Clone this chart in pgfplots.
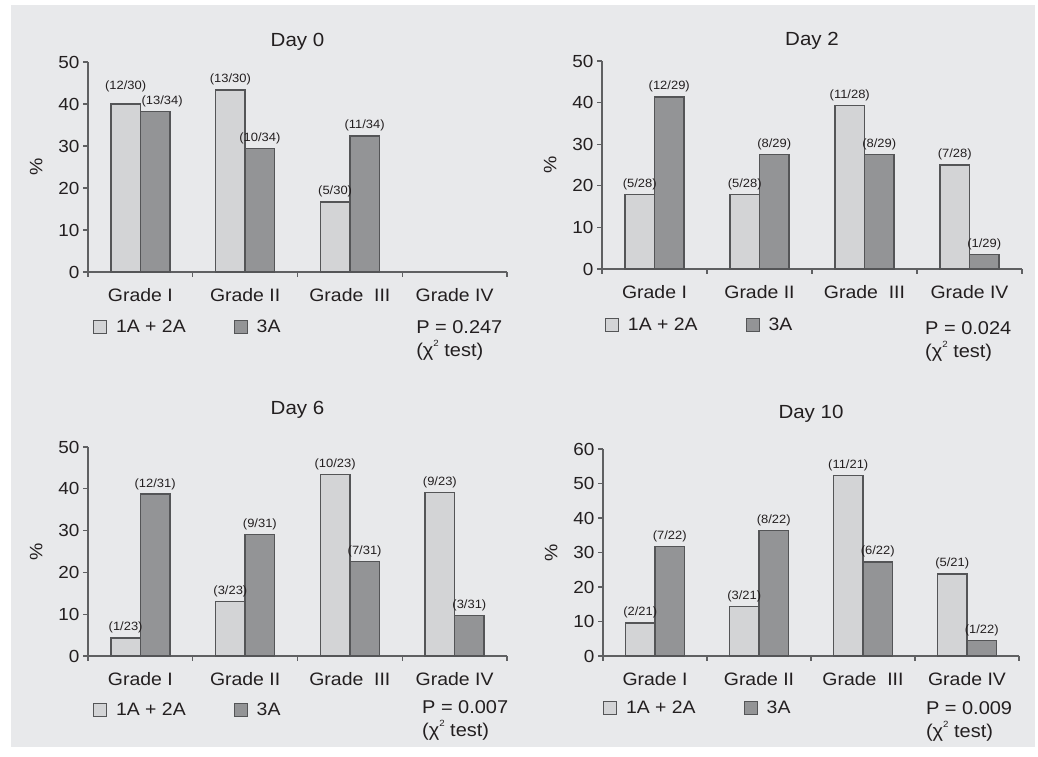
\documentclass[border=0pt]{standalone}
\usepackage{fontspec}
\setmainfont{Liberation Sans}[FakeStretch=1.08]
\usepackage{pgfplots}
\usepackage{pgfplotstable}
\pgfplotsset{compat=1.18}
\definecolor{bg}{HTML}{E8E9EB}
\definecolor{lightbar}{HTML}{D3D4D6}
\definecolor{darkbar}{HTML}{939496}
\definecolor{edge}{HTML}{545557}
\definecolor{axisc}{HTML}{5F6062}
\definecolor{txt}{HTML}{231F20}

% Day 0
\pgfplotstableread{
x y lab dx dy
0 40.00 (12/30) 0 10
1 43.33 (13/30) 0 3
2 16.67 (5/30) 0 3
}\dZa
\pgfplotstableread{
x y lab dx dy
0 38.24 (13/34) 7 3
1 29.41 (10/34) 0 3
2 32.35 (11/34) 0 3
}\dZb
% Day 2
\pgfplotstableread{
x y lab dx dy
0 17.86 (5/28) 0 3
1 17.86 (5/28) 0 3
2 39.29 (11/28) 0 3
3 25.00 (7/28) 0 3
}\dTa
\pgfplotstableread{
x y lab dx dy
0 41.38 (12/29) 0 3
1 27.59 (8/29) 0 3
2 27.59 (8/29) 0 3
3 3.45 (1/29) 0 3
}\dTb
% Day 6
\pgfplotstableread{
x y lab dx dy
0 4.35 (1/23) 0 3
1 13.04 (3/23) 0 3
2 43.48 (10/23) 0 3
3 39.13 (9/23) 0 3
}\dSa
\pgfplotstableread{
x y lab dx dy
0 38.71 (12/31) 0 3
1 29.03 (9/31) 0 3
2 22.58 (7/31) 0 3
3 9.68 (3/31) 0 3
}\dSb
% Day 10
\pgfplotstableread{
x y lab dx dy
0 9.52 (2/21) 0 3
1 14.29 (3/21) 0 3
2 52.38 (11/21) 0 3
3 23.81 (5/21) 0 3
}\dXa
\pgfplotstableread{
x y lab dx dy
0 31.82 (7/22) 0 3
1 36.36 (8/22) 0 3
2 27.27 (6/22) 0 3
3 4.55 (1/22) 0 3
}\dXb

\pgfplotsset{
  panel/.style={
    scale only axis,
    clip=false,
    anchor=south west,
    axis lines=left,
    axis line style={-, draw=axisc, line width=1.2pt},
    xmin=-0.5, xmax=3.5, ymin=0, ymax=50,
    ytick={0,10,...,50},
    xtick={-0.5,0.5,1.5,2.5,3.5},
    xticklabels={},
    extra x ticks={0,1,2,3},
    extra x tick labels={Grade I,Grade II,Grade\ \ III,Grade IV},
    extra x tick style={major tick length=0pt,
      xticklabel style={font=\fontsize{18}{18}\selectfont, text=txt, yshift=-13pt}},
    tick align=outside,
    major tick length=5pt,
    tick style={draw=axisc, line width=1.2pt},
    yticklabel style={font=\fontsize{17.5}{17.5}\selectfont, text=txt},
    /pgf/number format/assume math mode=true,
    ylabel={\%},
    ylabel shift=9pt,
    ylabel style={font=\fontsize{18}{18}\selectfont, text=txt},
    title style={font=\fontsize{19}{19}\selectfont, text=txt},
    ybar=0pt, bar width=29.5pt,
    nodes near coords,
    point meta=explicit symbolic,
    visualization depends on={\thisrow{dx}\as\dx},
    visualization depends on={\thisrow{dy}\as\dy},
    every node near coord/.append style={font=\fontsize{12}{12}\selectfont,
      text=txt, inner sep=1pt, xshift=\dx pt, yshift=\dy pt},
    legend cell align=left,
    legend style={draw=none, fill=none, legend columns=2, inner sep=0pt, outer sep=0pt,
      nodes={inner sep=0pt, font=\fontsize{18}{18}\selectfont, text=txt},
      /tikz/every odd column/.append style={column sep=9pt},
      /tikz/every even column/.append style={column sep=48pt},
      anchor=west},
  },
  lightplot/.style={fill=lightbar, draw=edge, line width=1.4pt,
    legend image code/.code={\draw[fill=lightbar, draw=edge, line width=1pt] (0pt,-6.5pt) rectangle (13pt,6.5pt);}},
  darkplot/.style={fill=darkbar, draw=edge, line width=1.4pt,
    legend image code/.code={\draw[fill=darkbar, draw=edge, line width=1pt] (0pt,-6.5pt) rectangle (13pt,6.5pt);}},
}
\tikzset{pnode/.style={anchor=north west, align=left, inner sep=0pt, font=\fontsize{18.5}{23}\selectfont, text=txt}}
\newcommand{\chitest}{(χ\raisebox{0.55em}{\fontsize{9}{9}\selectfont 2} test)}

\begin{document}
\begin{tikzpicture}[x=1pt,y=1pt]
\color{txt}
\useasboundingbox (0,0) rectangle (1038,757);
\fill[bg] (11,10) rectangle (1035,752);

% Day 0
\begin{axis}[panel, at={(88pt,485pt)}, width=419pt, height=210pt,
  title={Day 0}, title style={yshift=2pt},
  legend style={at={(0.012,-0.262)}}]
\addplot[lightplot] table[x=x,y=y,meta=lab] {\dZa};
\addplot[darkplot] table[x=x,y=y,meta=lab] {\dZb};
\legend{1A + 2A, 3A}
\node[pnode] at (rel axis cs:0.783,-0.229) {P = 0.247\\\chitest};
\end{axis}

% Day 2
\begin{axis}[panel, at={(602pt,488pt)}, width=420pt, height=208pt,
  title={Day 2}, title style={yshift=2pt},
  legend style={at={(0.007,-0.269)}}]
\addplot[lightplot] table[x=x,y=y,meta=lab] {\dTa};
\addplot[darkplot] table[x=x,y=y,meta=lab] {\dTb};
\legend{1A + 2A, 3A}
\node[pnode] at (rel axis cs:0.769,-0.253) {P = 0.024\\\chitest};
\end{axis}

% Day 6
\begin{axis}[panel, at={(88pt,101pt)}, width=419pt, height=209pt,
  title={Day 6}, title style={yshift=19pt},
  legend style={at={(0.012,-0.258)}}]
\addplot[lightplot] table[x=x,y=y,meta=lab] {\dSa};
\addplot[darkplot] table[x=x,y=y,meta=lab] {\dSb};
\legend{1A + 2A, 3A}
\node[pnode] at (rel axis cs:0.797,-0.211) {P = 0.007\\\chitest};
\end{axis}

% Day 10
\begin{axis}[panel, at={(603pt,101pt)}, width=416pt, height=207pt,
  ymax=60, ytick={0,10,...,60},
  title={Day 10}, title style={yshift=17pt},
  legend style={at={(0.0,-0.251)}}]
\addplot[lightplot] table[x=x,y=y,meta=lab] {\dXa};
\addplot[darkplot] table[x=x,y=y,meta=lab] {\dXb};
\legend{1A + 2A, 3A}
\node[pnode] at (rel axis cs:0.776,-0.221) {P = 0.009\\\chitest};
\end{axis}
\end{tikzpicture}
\end{document}
